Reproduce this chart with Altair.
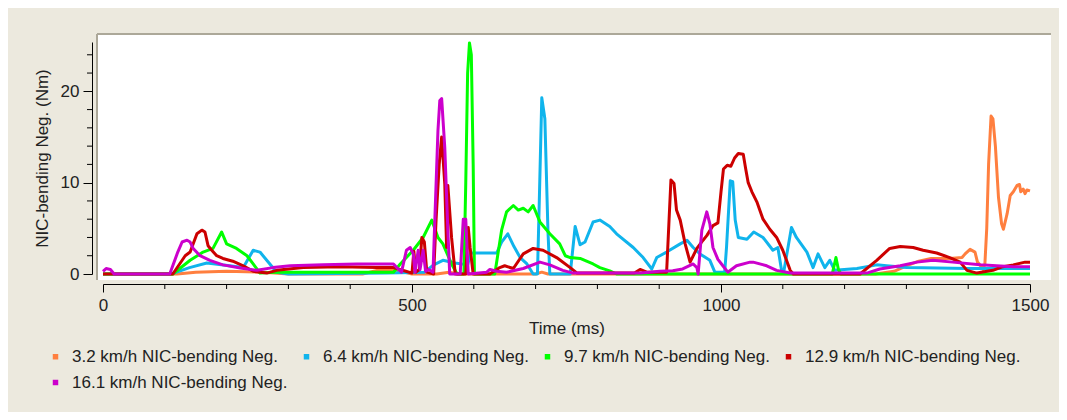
import altair as alt
import pandas as pd

# ---------------- data ----------------
series = [
    "3.2 km/h NIC-bending Neg.",
    "6.4 km/h NIC-bending Neg.",
    "9.7 km/h NIC-bending Neg.",
    "12.9 km/h NIC-bending Neg.",
    "16.1 km/h NIC-bending Neg.",
]
colors = ["#ff7f3f", "#10b4ec", "#00ff00", "#cc0000", "#cc00cc"]

t_32 = [0, 120, 150, 200, 260, 300, 420, 450, 475, 500, 540, 560, 575, 700, 710, 720,
        1250, 1280, 1300, 1320, 1340, 1370, 1390, 1395, 1403, 1411, 1415, 1419, 1424,
        1427, 1430, 1433, 1437, 1440, 1444, 1449, 1454, 1457, 1463, 1468, 1473, 1479,
        1483, 1485, 1489, 1492, 1495, 1500]
v_32 = [0, 0, 0.2, 0.3, 0.2, 0, 0, 0.5, 0.4, 0, 0, 0.2, 0, 0, 0.2, 0,
        0, 0.3, 0.9, 1.4, 1.7, 1.7, 1.8, 2.2, 2.7, 2.4, 1.3, 1.0, 0.5,
        1.1, 5.0, 12.0, 17.3, 17.0, 14.0, 8.4, 5.5, 4.9, 6.6, 8.6, 9.0, 9.7,
        9.8, 9.0, 9.3, 8.8, 9.2, 9.1]

t_64 = [0, 110, 140, 168, 205, 227, 243, 254, 270, 281, 300, 460, 520, 535, 550, 570,
        590, 595, 637, 645, 655, 665, 675, 686, 696, 703, 706, 710, 715, 720, 723, 756,
        764, 772, 780, 793, 804, 820, 831, 858, 874, 888, 896, 912, 934, 945, 955, 966,
        982, 990, 1006, 1009, 1015, 1019, 1023, 1028, 1042, 1053, 1068, 1084, 1092,
        1098, 1102, 1114, 1122, 1139, 1149, 1157, 1168, 1176, 1184, 1220, 1252, 1268,
        1300, 1400, 1500]
v_64 = [0, 0, 0.7, 1.2, 0.9, 0.7, 2.6, 2.4, 1.1, 0.2, 0, 0.1, 0.2, 1.0, 1.5, 1.2,
        1.0, 2.3, 2.3, 3.5, 4.4, 3.0, 1.8, 1.1, 0, 0, 8.0, 19.3, 17.0, 4.7, 0, 0,
        5.2, 3.2, 3.5, 5.7, 5.9, 5.2, 4.4, 2.9, 1.8, 0.55, 1.8, 2.4, 3.3, 3.7, 2.9, 2.2,
        1.5, 0.2, 0.2, 3.0, 10.2, 10.1, 5.9, 4.0, 3.8, 4.6, 4.0, 2.6, 2.9,
        0.4, 0.4, 5.1, 4.0, 2.4, 0.7, 2.2, 0.7, 1.5, 0.4, 0.6, 1.0, 0.9,
        0.7, 0.6, 0.6]

t_97 = [0, 113, 141, 162, 178, 192, 200, 216, 233, 243, 254, 280, 470, 481, 502, 518,
        532, 542, 550, 564, 573, 584, 587, 590, 593, 596, 599, 601, 634, 645, 653, 664,
        672, 680, 688, 696, 707, 723, 739, 748, 756, 772, 793, 804, 820, 831, 1180,
        1186, 1190, 1194, 1500]
v_97 = [0, 0, 1.5, 2.4, 2.8, 4.6, 3.3, 2.8, 2.0, 1.1, 0.1, 0.2, 0.2, 1.1, 2.6, 4.0,
        5.9, 4.0, 3.3, 1.1, 0, 0, 10.0, 22.0, 25.3, 24.0, 12.0, 0, 0, 4.8, 6.8, 7.5,
        7.0, 7.2, 6.8, 7.5, 5.7, 4.4, 3.3, 2.0, 1.8, 1.7, 1.1, 0.7, 0.35, 0, 0,
        1.8, 0.5, 0, 0]

t_129 = [0, 113, 133, 141, 152, 160, 165, 170, 176, 184, 194, 210, 227, 243, 265, 281,
         324, 383, 443, 470, 490, 500, 503, 506, 512, 516, 520, 524, 535, 539, 544, 548,
         553, 556, 558, 564, 570, 587, 591, 594, 599, 626, 642, 650, 664, 680, 696, 712,
         734, 756, 767, 860, 869, 880, 912, 916, 919, 924, 928, 934, 942, 950, 961, 971,
         977, 987, 995, 1000, 1004, 1010, 1016, 1022, 1028, 1036, 1040, 1044, 1050,
         1058, 1068, 1079, 1090, 1100, 1112, 1117, 1225, 1252, 1273, 1290, 1311, 1327,
         1349, 1370, 1387, 1398, 1414, 1440, 1456, 1473, 1492, 1500]
v_129 = [0, 0, 2.0, 2.4, 4.4, 4.8, 4.6, 3.1, 2.6, 2.0, 1.7, 1.4, 0.9, 0.3, 0.1, 0.4,
         0.7, 0.8, 0.7, 0.7, 0.3, 0.1, 2.5, 0.2, 0.5, 4.0, 3.5, 0.2, 0, 6.0, 12.0, 15.0,
         9.9, 2.9, 9.7, 4.0, 0, 0, 5.1, 2.9, 0, 0, 0.7, 0.9, 0.6, 2.2, 2.8, 2.6,
         1.8, 0.7, 0.1, 0.1, 0.5, 0.2, 0.2, 6.0, 10.3, 9.9, 7.0, 5.9, 3.3, 1.3, 2.8, 3.7,
         4.2, 5.3, 5.6, 9.0, 11.5, 11.9, 11.8, 12.7, 13.2, 13.1, 11.5, 10.0, 9.0,
         7.9, 6.0, 4.9, 4.0, 2.6, 0.4, 0, 0, 1.5, 2.8, 3.0, 2.9, 2.6,
         2.3, 1.8, 1.3, 0.4, 0.1, 0.4, 0.8, 1.0, 1.3, 1.3]

t_161 = [0, 5, 12, 18, 108, 121, 128, 136, 141, 146, 157, 173, 194, 222, 249, 275, 303,
         356, 411, 470, 477, 483, 491, 497, 502, 505, 510, 513, 518, 522, 527, 534, 542,
         545, 548, 553, 558, 561, 578, 583, 587, 591, 621, 626, 637, 653, 680, 707, 723,
         744, 761, 870, 901, 922, 938, 955, 961, 963, 969, 977, 982, 987, 995, 1003, 1011,
         1025, 1047, 1052, 1074, 1090, 1112, 1236, 1257, 1290, 1317, 1343, 1375, 1419,
         1473, 1500]
v_161 = [0.3, 0.6, 0.5, 0, 0, 2.4, 3.5, 3.7, 3.5, 2.8, 2.0, 1.5, 1.0, 0.66, 0.4, 0.7, 0.9,
         1.0, 1.1, 1.1, 0.6, 0.2, 2.6, 2.9, 2.2, 0.2, 2.6, 0.5, 2.6, 0.3, 0.5, 0.2, 15.7,
         19.0, 19.2, 13.9, 4.8, 0, 0, 6.0, 6.0, 0, 0.2, 0.5, 0.3, 0.2, 0.6, 1.3, 1.0,
         0.4, 0.1, 0.1, 0.3, 0.35, 0.55, 1.1, 0.7, 0, 4.8, 6.8, 5.5, 2.9, 1.6, 0.9, 0.2,
         0.9, 1.3, 1.3, 0.9, 0.4, 0.1, 0.1, 0.55, 0.9, 1.3, 1.5, 1.3, 1.0,
         0.8, 0.8]

x_major = [0, 500, 1000, 1500]
x_minor = [100, 200, 300, 400, 600, 700, 800, 900, 1100, 1200, 1300, 1400]
y_major = [0, 10, 20]
y_minor = [2, 4, 6, 8, 12, 14, 16, 18, 22, 24]

rows = []
for name, ts, vs in zip(series, [t_32, t_64, t_97, t_129, t_161],
                        [v_32, v_64, v_97, v_129, v_161]):
    assert len(ts) == len(vs), name
    for t, v in zip(ts, vs):
        rows.append({"series": name, "time": t, "value": v})
df = pd.DataFrame(rows)

# ---------------- chart ----------------
FONT = "Liberation Sans"
TXT = "#222222"
W, H = 927, 232

x_scale = alt.Scale(domain=[0, 1500], nice=False, zero=False)
y_scale = alt.Scale(domain=[0, 25.4], nice=False, zero=False)
color_scale = alt.Scale(domain=series, range=colors)

x_axis = alt.Axis(values=x_major, format="d", title="Time (ms)", offset=10, tickSize=8,
                  domainColor="black", tickColor="black", labelFont=FONT, labelFontSize=17,
                  labelColor=TXT, titleFont=FONT, titleFontSize=17, titleFontWeight="normal",
                  titleColor=TXT, labelPadding=5, titlePadding=7, grid=False,
                  labelFlush=False)
y_axis = alt.Axis(values=y_major, format="d", title="NIC-bending Neg. (Nm)", offset=11,
                  tickSize=9, domainColor="black", tickColor="black", labelFont=FONT,
                  labelFontSize=17, labelColor=TXT, titleFont=FONT, titleFontSize=17,
                  titleFontWeight="normal", titleColor=TXT, labelPadding=4,
                  titlePadding=9, grid=False)

X = alt.X("time:Q", scale=x_scale, axis=x_axis)
Y = alt.Y("value:Q", scale=y_scale, axis=y_axis)

one = alt.Data(values=[{"a": 1}])
panel = alt.Chart(one).mark_rect(color="white").encode(
    x=alt.value(-6), x2=alt.value(948), y=alt.value(-8), y2=alt.value(238))
border_top = alt.Chart(one).mark_rule(color="#aca899", strokeWidth=2).encode(
    x=alt.value(-6), x2=alt.value(948), y=alt.value(-8))
border_left = alt.Chart(one).mark_rule(color="#aca899", strokeWidth=2).encode(
    x=alt.value(-6), y=alt.value(-8), y2=alt.value(238))

legend = alt.Legend(
    title=None, orient="none", legendX=-56, legendY=306, direction="horizontal",
    columns=4, symbolType="square", symbolSize=30, symbolOpacity=1, labelFont=FONT,
    labelFontSize=17, labelColor=TXT, labelOffset=8, columnPadding=10,
    rowPadding=8, labelLimit=400, symbolStrokeWidth=0)

# invisible squares: they only carry the legend (filled square symbols)
legend_layer = alt.Chart(df).mark_square(size=30, filled=True, opacity=0).encode(
    x=X, y=Y,
    fill=alt.Fill("series:N", scale=alt.Scale(domain=series, range=colors),
                  legend=legend))

lines = []
for name in series:
    lines.append(
        alt.Chart(df).transform_filter(alt.datum.series == name)
        .mark_line(strokeWidth=3, strokeJoin="round")
        .encode(
            x=X, y=Y,
            color=alt.Color("series:N", scale=color_scale, legend=None),
        )
    )

xminor = alt.Chart(pd.DataFrame({"time": x_minor})).mark_rule(color="black").encode(
    x=X, y=alt.value(H + 10), y2=alt.value(H + 15))
yminor = alt.Chart(pd.DataFrame({"value": y_minor})).mark_rule(color="black").encode(
    y=Y, x=alt.value(-11), x2=alt.value(-16))

chart = alt.layer(panel, border_top, border_left, legend_layer, *lines, xminor, yminor).properties(
    width=W, height=H,
    autosize=alt.AutoSizeParams(type="none"),
    padding={"left": 95, "top": 34, "right": 29, "bottom": 138},
    background="#ECE9DE",
).configure_view(stroke=None)

chart.save("out.html", embed_options={"renderer": "svg", "actions": False})
